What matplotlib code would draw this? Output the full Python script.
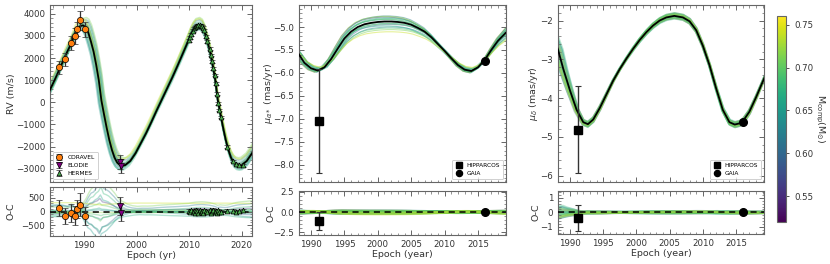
import numpy as np
import matplotlib
matplotlib.use("Agg")
import matplotlib.pyplot as plt
from matplotlib.ticker import AutoMinorLocator, MultipleLocator
from matplotlib.colors import Normalize
from matplotlib.cm import ScalarMappable

# ---- best-fit orbit (a little past the axis limits) ----
rv_epoch = [1982.5, 1983.5, 1984.5, 1985.5, 1986.5, 1987.5, 1988.3, 1988.8, 1989.3, 1989.8,
            1990.3, 1990.8, 1991.3, 1991.8, 1992.3, 1992.8, 1993.3, 1993.8, 1994.3,
            1994.8, 1995.3, 1995.8, 1996.3, 1996.8, 1997.3, 1997.8, 1998.8, 1999.8,
            2000.8, 2001.8, 2002.8, 2003.8, 2004.8, 2005.8, 2006.8, 2007.8, 2008.8,
            2009.8, 2010.3, 2010.8, 2011.3, 2012.0, 2012.5, 2013.0, 2013.5, 2014.0,
            2014.5, 2015.0, 2015.5, 2016.0, 2016.5, 2017.0, 2017.5, 2018.0, 2018.5,
            2019.0, 2019.5, 2020.0, 2021.0, 2022.0, 2023.0]
rv_model = [80, 570, 1070, 1600, 2145, 2640, 3140, 3340, 3450, 3480,
            3400, 3150, 2750, 2300, 1700, 1000, 80, -550, -1150,
            -1700, -2150, -2500, -2720, -2830, -2860, -2840, -2650, -2300,
            -1850, -1400, -900, -380, 120, 620, 1120, 1650, 2200,
            2750, 3050, 3280, 3430, 3480, 3400, 3150, 2750, 2300,
            1700, 1000, 80, -550, -1150, -1700, -2150, -2500, -2720,
            -2830, -2860, -2840, -2650, -2300, -1880]

pm_epoch = [1987.0, 1988.2, 1989, 1990, 1991, 1992, 1993, 1994, 1995, 1996, 1997, 1998,
            1999, 2000, 2001, 2002, 2003, 2004, 2005, 2006, 2007, 2008, 2009,
            2010, 2011, 2012, 2013, 2014, 2015, 2016, 2017, 2018, 2019.2, 2020.5]
pmra_model = [-5.35, -5.60, -5.78, -5.90, -5.95, -5.88, -5.70, -5.47, -5.25, -5.10, -5.00,
              -4.94, -4.91, -4.89, -4.88, -4.88, -4.89, -4.91, -4.95, -5.02, -5.10,
              -5.22, -5.37, -5.52, -5.68, -5.83, -5.93, -5.96, -5.88, -5.72, -5.50,
              -5.30, -5.12, -4.95]

pmdec_epoch = [1987.0, 1988.2, 1989, 1990, 1991, 1992, 1992.7, 1993.5, 1994.5, 1995.5, 1996.5,
               1997.5, 1998.5, 1999.5, 2000.5, 2001.5, 2002.5, 2003.5, 2004.5, 2005.7,
               2007.0, 2008.0, 2009.0, 2010.0, 2011.0, 2012.0, 2013.0, 2014.0, 2014.8,
               2015.5, 2016.0, 2017.0, 2018.0, 2019.2, 2020.5]
pmdec_model = [-2.20, -2.75, -3.25, -3.80, -4.30, -4.62, -4.67, -4.55, -4.25, -3.90, -3.55,
               -3.25, -2.98, -2.73, -2.50, -2.30, -2.13, -2.00, -1.92, -1.88,
               -1.92, -2.02, -2.25, -2.65, -3.15, -3.75, -4.30, -4.62, -4.68,
               -4.65, -4.60, -4.35, -3.98, -3.50, -3.00]

# ---- posterior draws: companion mass and how each draw departs from the best fit ----
mass = [0.56, 0.60, 0.62, 0.63, 0.64, 0.65, 0.66, 0.66, 0.67, 0.68, 0.69, 0.70,
        0.70, 0.71, 0.72, 0.74]
rv_dt = [0.3, -0.6, 0.7, -0.2, 0.05, -0.8, 0.45, 0.1, -0.45, 0.6, -0.1, 0.2,
         -0.3, 0.8, 0.0, -0.05]
rv_off = [100, -80, 250, -50, 0, -150, 40, 0, -200, 150, -30, 60, 20, 350, -20, 300]
ra_dt = [-0.5, 0.4, -0.2, 0.5, -0.4, 0.2, 0.0, -0.45, 0.45, -0.1, 0.3, -0.3,
         0.1, 0.5, -0.5, 0.35]
ra_amp = [1.12, 0.92, 1.15, 0.85, 1.05, 0.95, 1.08, 0.88, 1.0, 1.1, 0.82, 1.06,
          0.94, 0.78, 1.14, 0.72]
de_dt = [0.3, -0.7, 0.6, -0.2, 0.0, -0.8, 0.5, 0.1, -0.4, 0.7, -0.1, 0.2,
         -0.5, -0.3, 0.4, -0.6]
de_amp = [0.96, 1.04, 0.98, 1.05, 1.01, 0.97, 1.03, 1.0, 0.95, 1.02, 0.99, 1.04,
          0.97, 1.05, 0.96, 1.02]

# ---- RV data ----
cor_t = [1985.3, 1986.3, 1987.5, 1988.2, 1988.6, 1989.3, 1990.1]
cor_rv = [1580, 1950, 2680, 2990, 3320, 3700, 3300]
cor_err = [300, 300, 330, 350, 330, 430, 330]
cor_oc = [130, -160, -60, -150, 90, 250, -150]

elo_t = [1996.9, 1997.1]
elo_rv = [-2700, -2880]
elo_err = [320, 320]
elo_oc = [200, -40]

her_t = [2009.9, 2010.1, 2010.4, 2010.7, 2011.0, 2011.2, 2011.4, 2011.6, 2011.8,
         2012.0, 2012.2, 2012.4, 2012.6, 2012.9, 2013.2, 2013.5, 2013.9, 2014.2,
         2014.4, 2014.6, 2014.9, 2015.1, 2015.3, 2015.6, 2015.8, 2016.1, 2017.3,
         2018.3, 2019.0, 2019.6, 2020.2]
her_rv = [2800, 2940, 3080, 3240, 3345, 3400, 3440, 3470, 3480,
          3490, 3460, 3430, 3380, 3260, 2990, 2760, 2420, 2140,
          1850, 1540, 1230, 860, 400, -40, -350, -660, -2000,
          -2650, -2780, -2840, -2840]
her_err = [60] * 31
her_oc = [20, -30, 40, -10, 30, -50, 60, 10, -40, 50, -20, 30, -60, 40, 10, -30,
          50, -40, 20, 60, -10, 30, -50, 40, 0, -20, 30, 20, -10, 10, 40]

# ---- astrometry ----
hip_t, gaia_t = 1991.25, 2016.0
hip_ra, hip_ra_err, gaia_ra = -7.05, 1.13, -5.75
hip_ra_oc, hip_ra_oc_err = -1.12, 1.15
hip_de, hip_de_err, gaia_de = -4.81, 1.12, -4.61
hip_de_oc, hip_de_oc_err = -0.42, 0.9

W, H = 830, 264
fig = plt.figure(figsize=(W / 100, H / 100), dpi=100)
plt.rcParams["font.family"] = "DejaVu Sans"

norm = Normalize(0.52, 0.76)
cmap = plt.get_cmap("viridis")
TXT = "#333333"
EDGE = "#666666"


def box(x0, y0, x1, y1):
    return fig.add_axes([x0 / W, 1 - y1 / H, (x1 - x0) / W, (y1 - y0) / H])


def style(ax, xmin=5, ymin=5):
    ax.tick_params(which="both", direction="in", top=True, right=True,
                   labelsize=6.2, colors=TXT)
    ax.tick_params(which="major", length=3.5, width=0.7, color=EDGE)
    ax.tick_params(which="minor", length=1.8, width=0.5, color=EDGE)
    ax.xaxis.set_minor_locator(AutoMinorLocator(xmin))
    ax.yaxis.set_minor_locator(AutoMinorLocator(ymin))
    for s in ax.spines.values():
        s.set_color(EDGE)
        s.set_linewidth(0.8)


def draw_panel(ax, axr, epoch, model, dts, amps, offs, t0, t1, y0, lw, alpha, rlw):
    epoch = np.asarray(epoch, float)
    model = np.asarray(model, float)
    for m, dt, a, o in zip(mass, dts, amps, offs):
        w = np.clip((t1 - epoch) / (t1 - t0), -0.15, 1.0)
        x = epoch + dt * w
        y = y0 + a * (model - y0) + o
        c = cmap(norm(m))
        ax.plot(x, y, color=c, lw=lw, alpha=alpha, zorder=1)
        axr.plot(x, y - np.interp(x, epoch, model), color=c, lw=rlw,
                 alpha=alpha, zorder=1)
    ax.plot(epoch, model, color="k", lw=1.3, zorder=3)
    axr.axhline(0, color="k", lw=1.1, ls=(0, (4, 3)), zorder=3)


# ---------------- RV ----------------
ax1 = box(50, 5, 252, 182)
ax1r = box(50, 187, 252, 236)
draw_panel(ax1, ax1r, rv_epoch, rv_model, rv_dt, [1.0] * 16, rv_off,
           1983.5, 2013.0, 0, 1.3, 0.35, 1.0)
ekw = dict(ecolor="#333333", elinewidth=0.9, capsize=2, capthick=0.8,
           markeredgecolor="k", markeredgewidth=0.5, ls="none", zorder=5)
ax1.errorbar(cor_t, cor_rv, yerr=cor_err, fmt="o", color="#ff7f0e", ms=4.5,
             label="CORAVEL", **ekw)
ax1.errorbar(elo_t, elo_rv, yerr=elo_err, fmt="v", color="purple", ms=4.5,
             label="ELODIE", **ekw)
ax1.errorbar(her_t, her_rv, yerr=her_err, fmt="^", color="#4caf50", ms=3.5,
             label="HERMES", **ekw)
ax1r.errorbar(cor_t, cor_oc, yerr=cor_err, fmt="o", color="#ff7f0e", ms=4.5, **ekw)
ax1r.errorbar(elo_t, elo_oc, yerr=elo_err, fmt="v", color="purple", ms=4.5, **ekw)
ax1r.errorbar(her_t, her_oc, yerr=her_err, fmt="^", color="#4caf50", ms=3.5, **ekw)
for a in (ax1, ax1r):
    a.set_xlim(1983.5, 2022.0)
    style(a)
ax1.set_ylim(-3600, 4400)
ax1r.set_ylim(-900, 900)
ax1.xaxis.set_major_locator(MultipleLocator(10))
ax1r.xaxis.set_major_locator(MultipleLocator(10))
ax1.yaxis.set_major_locator(MultipleLocator(1000))
ax1r.yaxis.set_major_locator(MultipleLocator(500))
ax1.set_xticklabels([])
ax1.set_ylabel("RV (m/s)", fontsize=6.8, color=TXT)
ax1r.set_ylabel("O-C", fontsize=6.8, color=TXT)
ax1r.set_xlabel("Epoch (yr)", fontsize=6.8, color=TXT, labelpad=1)
ax1.yaxis.set_label_coords(-0.17, 0.5)
ax1r.yaxis.set_label_coords(-0.17, 0.5)
lg = ax1.legend(loc="lower left", fontsize=4.2, frameon=True, handlelength=1.2,
                borderpad=0.5, labelspacing=0.5)
lg.get_frame().set_edgecolor("#bbbbbb")
lg.get_frame().set_linewidth(0.6)

# ---------------- astrometry panels ----------------
panels = [
    ((299, 5, 506, 182), (299, 191, 506, 235), pm_epoch, pmra_model, ra_dt, ra_amp,
     1988.2, 2040.0, -5.68, 0.8, 0.45, 2.2, hip_ra, hip_ra_err, gaia_ra, hip_ra_oc,
     hip_ra_oc_err, (-8.38, -4.52), (-2.83, 2.6), 0.5, 2.5,
     r"$\mu_{\alpha*}$ (mas/yr)", -0.115),
    ((558, 5, 764, 182), (558, 191, 764, 234), pmdec_epoch, pmdec_model, de_dt, de_amp,
     1988.2, 1993.0, -3.3, 1.5, 0.35, 1.8, hip_de, hip_de_err, gaia_de, hip_de_oc,
     hip_de_oc_err, (-6.16, -1.6), (-1.5, 1.48), 1.0, 1.0,
     r"$\mu_{\delta}$ (mas/yr)", -0.085),
]
for (mb, rb, ep, mod, dts, amps, t0, t1, y0, lw, al, rlw, hv, he, gv, hoc, hoce,
     ylim, rylim, ymaj, rymaj, ylab, lx) in panels:
    ax = box(*mb)
    axr = box(*rb)
    draw_panel(ax, axr, ep, mod, dts, amps, [0.0] * 16, t0, t1, y0, lw, al, rlw)
    h1 = ax.errorbar([hip_t], [hv], yerr=[he], fmt="s", color="k", ms=5.5,
                     ecolor="#333333", elinewidth=1.0, capsize=2.5, capthick=0.8,
                     ls="none", zorder=5)
    h2, = ax.plot([gaia_t], [gv], "o", color="k", ms=5.5, ls="none", zorder=5)
    axr.errorbar([hip_t], [hoc], yerr=[hoce], fmt="s", color="k", ms=5.5,
                 ecolor="#333333", elinewidth=1.0, capsize=2.5, capthick=0.8,
                 ls="none", zorder=5)
    axr.plot([gaia_t], [0], "o", color="k", ms=5.5, zorder=5)
    for a in (ax, axr):
        a.set_xlim(1988.2, 2019.2)
        a.xaxis.set_major_locator(MultipleLocator(5))
        style(a)
    ax.set_ylim(*ylim)
    axr.set_ylim(*rylim)
    ax.yaxis.set_major_locator(MultipleLocator(ymaj))
    axr.yaxis.set_major_locator(MultipleLocator(rymaj))
    ax.set_xticklabels([])
    ax.set_ylabel(ylab, fontsize=6.8, color=TXT)
    axr.set_ylabel("O-C", fontsize=6.8, color=TXT)
    ax.yaxis.set_label_coords(lx, 0.5)
    axr.yaxis.set_label_coords(lx, 0.5)
    axr.set_xlabel("Epoch (year)", fontsize=6.8, color=TXT, labelpad=1)
    lg = ax.legend([h1, h2], ["HIPPARCOS", "GAIA"], loc="lower right", fontsize=4.2,
                   frameon=True, handlelength=1.2, borderpad=0.5, labelspacing=0.5,
                   markerscale=0.8)
    lg.get_frame().set_edgecolor("#bbbbbb")
    lg.get_frame().set_linewidth(0.6)

# ---------------- colorbar ----------------
cax = box(777, 16, 786, 222)
sm = ScalarMappable(norm=norm, cmap=cmap)
cb = fig.colorbar(sm, cax=cax, ticks=[0.55, 0.60, 0.65, 0.70, 0.75])
cb.ax.tick_params(labelsize=6.2, colors=TXT, length=2.5, width=0.6)
cb.outline.set_edgecolor(EDGE)
cb.outline.set_linewidth(0.8)
cb.set_label(r"M$_{\rm comp}$(M$_{\odot}$)", fontsize=6.8, color=TXT,
             rotation=270, labelpad=9)

fig.savefig("out.png", dpi=100)
